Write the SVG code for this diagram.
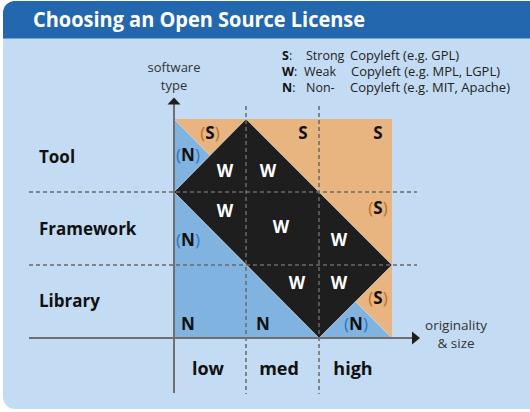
<svg xmlns="http://www.w3.org/2000/svg" width="530" height="412" viewBox="0 0 530 412">
<defs>
<style>
.title{font-family:"Open Sans","Noto Sans",sans-serif;font-weight:700;font-size:21px;fill:#ffffff}
.leg{font-family:"Open Sans","Noto Sans",sans-serif;font-size:12.5px;fill:#222222}
.legb{font-weight:700;fill:#111111}
.axl{font-family:"Open Sans","Noto Sans",sans-serif;font-size:13.5px;fill:#333333;text-anchor:middle}
.axt{font-family:"Open Sans","Noto Sans",sans-serif;font-size:13px;fill:#333333;text-anchor:middle}
.row{font-family:"Open Sans","Noto Sans",sans-serif;font-weight:700;font-size:17px;fill:#111111}
.col{font-family:"Open Sans","Noto Sans",sans-serif;font-weight:700;font-size:18px;fill:#111111;text-anchor:middle}
.cw{font-family:"Open Sans","Noto Sans",sans-serif;font-weight:700;font-size:17px;fill:#ffffff;text-anchor:middle}
.cb{font-family:"Open Sans","Noto Sans",sans-serif;font-weight:700;font-size:17px;fill:#111111;text-anchor:middle}
.po{fill:#b9712c;font-weight:400}
.pb{fill:#2f74c0;font-weight:400}
.dash{stroke:#6a6a6a;stroke-width:1.5;stroke-dasharray:4 3;fill:none}
.axis{stroke:#6f6f6f;stroke-width:2;fill:none}
.seam{stroke:#dfeaf3;stroke-width:0.8;stroke-opacity:0.7}
</style>
</defs>

<g id="frame">
<rect x="3" y="1" width="540" height="408" rx="12" ry="12" fill="#c3dcf3"/>
<path d="M3,38.5 V13 A12,12 0 0 1 15,1 H530 V38.5 Z" fill="#2367af"/>
<text class="title" x="33" y="27" textLength="332" lengthAdjust="spacingAndGlyphs">Choosing an Open Source License</text>
</g>

<g id="legend">
<text class="leg" x="282" y="60"><tspan class="legb">S</tspan>:</text>
<text class="leg" x="306" y="60">Strong</text>
<text class="leg" x="350" y="60" textLength="109" lengthAdjust="spacingAndGlyphs">Copyleft (e.g. GPL)</text>
<text class="leg" x="282" y="76"><tspan class="legb">W</tspan>:</text>
<text class="leg" x="304" y="76">Weak</text>
<text class="leg" x="351" y="76" textLength="149" lengthAdjust="spacingAndGlyphs">Copyleft (e.g. MPL, LGPL)</text>
<text class="leg" x="282" y="92"><tspan class="legb">N</tspan>:</text>
<text class="leg" x="306" y="92">Non-</text>
<text class="leg" x="350" y="92" textLength="160" lengthAdjust="spacingAndGlyphs">Copyleft (e.g. MIT, Apache)</text>
</g>

<g id="regions">
<polygon points="174,119 392,119 392,338 174,338" fill="#e8b47f"/>
<polygon class="seam" points="174,119 210,155.5 174,192" fill="#80b3e0"/>
<polygon class="seam" points="174,192 319,338 174,338" fill="#80b3e0"/>
<polygon class="seam" points="319,338 355.5,301.5 392,338" fill="#80b3e0"/>
<polygon class="seam" points="174,192 246,119 392,265 319,338" fill="#1e1e1e"/>
</g>

<g id="grid">
<line class="dash" x1="29" y1="192" x2="417" y2="192"/>
<line class="dash" x1="29" y1="265" x2="417" y2="265"/>
<line class="dash" x1="246" y1="106" x2="246" y2="394"/>
<line class="dash" x1="319" y1="106" x2="319" y2="394"/>
</g>

<g id="axes">
<line class="axis" x1="174" y1="103" x2="174" y2="393"/>
<line class="axis" x1="29" y1="338" x2="413" y2="338"/>
<polygon points="174,97.5 180.5,104.5 167.5,104.5" fill="#1e1e1e"/>
<polygon points="420,338 412,331.5 412,344.5" fill="#1e1e1e"/>
<text class="axt" x="174" y="72">software</text>
<text class="axt" x="174" y="90">type</text>
<text class="axl" x="456" y="330">originality</text>
<text class="axl" x="456" y="348">&amp; size</text>
</g>

<g id="row-labels">
<text class="row" x="39" y="163">Tool</text>
<text class="row" x="39" y="235">Framework</text>
<text class="row" x="39" y="307">Library</text>
</g>

<g id="col-labels">
<text class="col" x="208" y="375">low</text>
<text class="col" x="279" y="375">med</text>
<text class="col" x="353" y="375">high</text>
</g>

<g id="cells">
<text class="cb" x="210" y="139"><tspan class="po">(</tspan>S<tspan class="po">)</tspan></text>
<text class="cb" x="303" y="139">S</text>
<text class="cb" x="378" y="139">S</text>
<text class="cb" x="188" y="161"><tspan class="pb">(</tspan>N<tspan class="pb">)</tspan></text>
<text class="cw" x="225" y="177">W</text>
<text class="cw" x="268" y="177">W</text>
<text class="cw" x="225" y="217">W</text>
<text class="cb" x="378" y="214"><tspan class="po">(</tspan>S<tspan class="po">)</tspan></text>
<text class="cw" x="281" y="233">W</text>
<text class="cb" x="188" y="246"><tspan class="pb">(</tspan>N<tspan class="pb">)</tspan></text>
<text class="cw" x="339" y="246">W</text>
<text class="cw" x="297" y="289">W</text>
<text class="cw" x="339" y="289">W</text>
<text class="cb" x="378" y="304"><tspan class="po">(</tspan>S<tspan class="po">)</tspan></text>
<text class="cb" x="188" y="330">N</text>
<text class="cb" x="263" y="330">N</text>
<text class="cb" x="356" y="330"><tspan class="pb">(</tspan>N<tspan class="pb">)</tspan></text>
</g>
</svg>
